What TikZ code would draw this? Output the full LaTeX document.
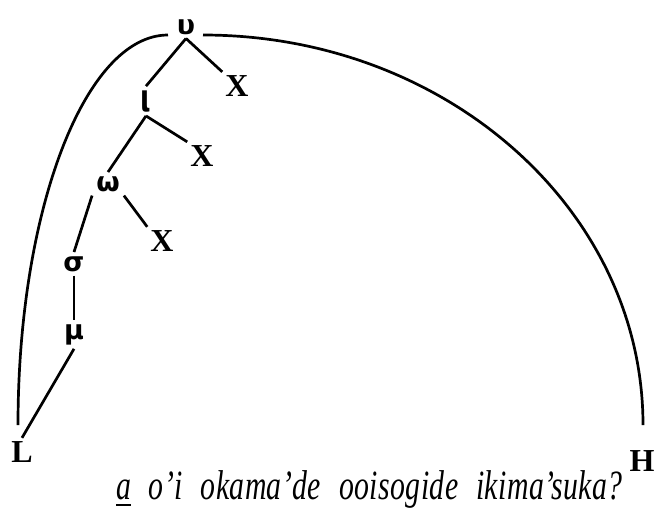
\documentclass[tikz,border=0pt]{standalone}
\usepackage{fontspec}
\setmainfont{Liberation Serif}
\newfontfamily\grk{DejaVu Sans}
\newfontfamily\sent[LetterSpace=1.5]{Liberation Serif}
\begin{document}
\begin{tikzpicture}[x=1pt,y=-1pt,
  edge/.style={line width=2.7pt},
  gk/.style={font=\grk\bfseries\fontsize{27}{27}\selectfont, inner sep=4pt, anchor=base},
  xl/.style={font=\bfseries\fontsize{32}{32}\selectfont, inner sep=3pt, anchor=base}]
\useasboundingbox (0,0) rectangle (655,512);
% labels
\node[gk] (u) at (186,34) {υ};
\node[gk] (i) at (146,111) {\scalebox{1}[1.4]{ι}};
\node[gk] (w) at (108,191) {ω};
\node[gk] (s) at (74,271) {σ};
\node[gk] (m) at (74,339) {μ};
\node[xl] (x1) at (237,96) {X};
\node[xl] (x2) at (202,166) {X};
\node[xl] (x3) at (162,251) {X};
\node[xl] (L) at (22,462) {L};
\node[xl] (H) at (642,471) {H};
% tree edges
\draw[edge] (u.south) -- (i.north);
\draw[edge] (u.south) -- (x1.north west);
\draw[edge] (i.south) -- (x2.north west);
\draw[edge] (i.south) -- (w.north);
\draw[edge] (w.south west) -- (s.north);
\draw[edge] (w.south east) -- (x3.north west);
\draw[edge] (s.south) -- (m.north);
\draw[edge] (m.south) -- (L.north);
% arcs
\coordinate (aL) at (168,35);
\coordinate (aR) at (203,35);
\draw[edge] (aL) arc[start angle=-90, end angle=-180, x radius=150, y radius=390];
\draw[edge] (aR) arc[start angle=-90, end angle=0, x radius=440, y radius=390];
% sentence
\node[anchor=base west, inner sep=0pt] (t) at (116,499)
  {\scalebox{1}[1.4]{\resizebox{506pt}{!}{\sent\itshape\underline{a}\hspace{0.6em}o’i\hspace{0.6em}okama’de\hspace{0.6em}ooisogide\hspace{0.6em}ikima’suka?}}};
\end{tikzpicture}
\end{document}
